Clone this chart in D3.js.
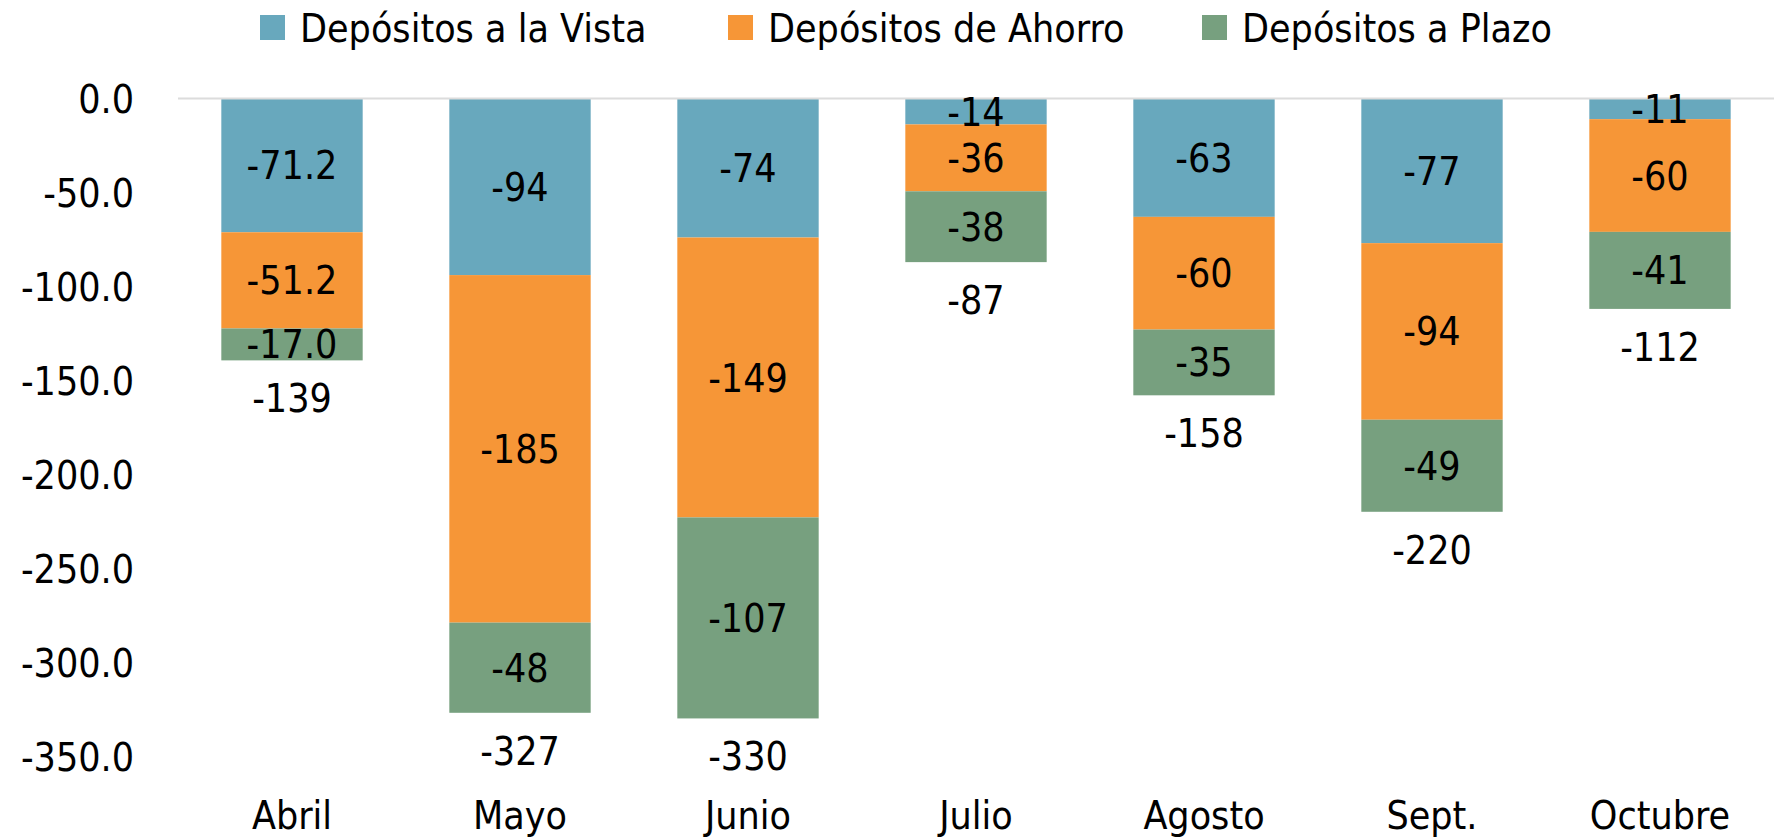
<!DOCTYPE html>
<html>
<head>
<meta charset="utf-8">
<script src="https://cdn.jsdelivr.net/npm/d3@7"></script>
<style>
  body { margin: 0; background: #fff; }
  svg text { font-family: "DejaVu Sans Condensed", "DejaVu Sans", sans-serif; font-stretch: condensed; fill: #000; }
</style>
</head>
<body>
<svg id="chart" width="1775" height="838"></svg>
<script>
// data
const months = ['Abril', 'Mayo', 'Junio', 'Julio', 'Agosto', 'Sept.', 'Octubre']
const seriesNames = ['Depósitos a la Vista', 'Depósitos de Ahorro', 'Depósitos a Plazo']
const vista = [-71.2, -94, -74, -13.8, -63, -77, -11]
const ahorro = [-51.2, -185, -149, -35.6, -60, -94, -60]
const plazo = [-17.0, -48, -107, -37.7, -35, -49, -41]
const decimals = [1, 0, 0, 0, 0, 0, 0]
const yTicks = [0, -50, -100, -150, -200, -250, -300, -350]
const colors = ['#68a8bd', '#f69637', '#77a07f']

let width = 1775
let height = 838
let fontSize = 39

// plain hyphen for negatives, like the original
const locale = d3.formatLocale({ decimal: '.', thousands: ',', grouping: [3], currency: ['', ''], minus: '-' })

let table = months.map((m, i) => ({ month: m, i: i, v0: vista[i], v1: ahorro[i], v2: plazo[i] }))
let keys = ['v0', 'v1', 'v2']

const svg = d3.select('#chart')

let x = d3.scaleBand()
    .domain(months)
    .range([178, 1774])
    .paddingInner(0.38)
    .paddingOuter(0.19)

let y = d3.scaleLinear()
    .domain([0, -350])
    .range([98.5, 756])

// stack downwards (all values negative)
let stack = d3.stack().keys(keys).offset(d3.stackOffsetDiverging)
let layers = stack(table)

// y axis labels, no line
let yAxis = d3.axisLeft(y)
    .tickValues(yTicks)
    .tickFormat(locale.format('.1f'))
    .tickSize(0)
    .tickPadding(0)

svg.append('g')
    .attr('transform', 'translate(134,0)')
    .call(yAxis)
    .call(g => g.select('.domain').remove())
    .call(g => g.selectAll('text')
      .attr('font-size', fontSize)
      .attr('dy', '0.36em')
      .style('font-family', null))

// bars
svg.append('g')
  .selectAll('g')
  .data(layers)
  .join('g')
    .attr('fill', (d, i) => colors[i])
  .selectAll('rect')
  .data(d => d)
  .join('rect')
    .attr('x', d => x(d.data.month))
    .attr('width', x.bandwidth())
    .attr('y', d => y(d[1]))
    .attr('height', d => y(d[0]) - y(d[1]))

// zero line
svg.append('line')
    .attr('x1', x.range()[0])
    .attr('x2', x.range()[1])
    .attr('y1', y(0))
    .attr('y2', y(0))
    .attr('stroke', '#dcdcdc')
    .attr('stroke-width', 2)

// segment labels
svg.append('g')
  .selectAll('g')
  .data(layers)
  .join('g')
  .selectAll('text')
  .data(d => d.map(s => ({ s: s, key: d.key })))
  .join('text')
    .attr('x', d => x(d.s.data.month) + x.bandwidth() / 2)
    .attr('y', d => (y(d.s[0]) + y(d.s[1])) / 2)
    .attr('dy', '0.36em')
    .attr('text-anchor', 'middle')
    .attr('font-size', fontSize)
    .text(d => locale.format('.' + decimals[d.s.data.i] + 'f')(d.s.data[d.key]))

// totals below each bar
svg.append('g')
  .selectAll('text')
  .data(table)
  .join('text')
    .attr('x', d => x(d.month) + x.bandwidth() / 2)
    .attr('y', d => y(d.v0 + d.v1 + d.v2) + 38)
    .attr('dy', '0.36em')
    .attr('text-anchor', 'middle')
    .attr('font-size', fontSize)
    .text(d => locale.format('.0f')(d.v0 + d.v1 + d.v2))

// category labels
svg.append('g')
  .selectAll('text')
  .data(months)
  .join('text')
    .attr('x', d => x(d) + x.bandwidth() / 2)
    .attr('y', 815)
    .attr('dy', '0.36em')
    .attr('text-anchor', 'middle')
    .attr('font-size', fontSize)
    .text(d => d)

// legend
let legendX = [260, 728, 1202]
let legend = svg.append('g')
  .selectAll('g')
  .data(seriesNames)
  .join('g')
    .attr('transform', (d, i) => `translate(${legendX[i]},15)`)

legend.append('rect')
    .attr('width', 25)
    .attr('height', 25)
    .attr('fill', (d, i) => colors[i])

legend.append('text')
    .attr('x', 40)
    .attr('y', 12.5)
    .attr('dy', '0.36em')
    .attr('font-size', fontSize)
    .text(d => d)
</script>
</body>
</html>
